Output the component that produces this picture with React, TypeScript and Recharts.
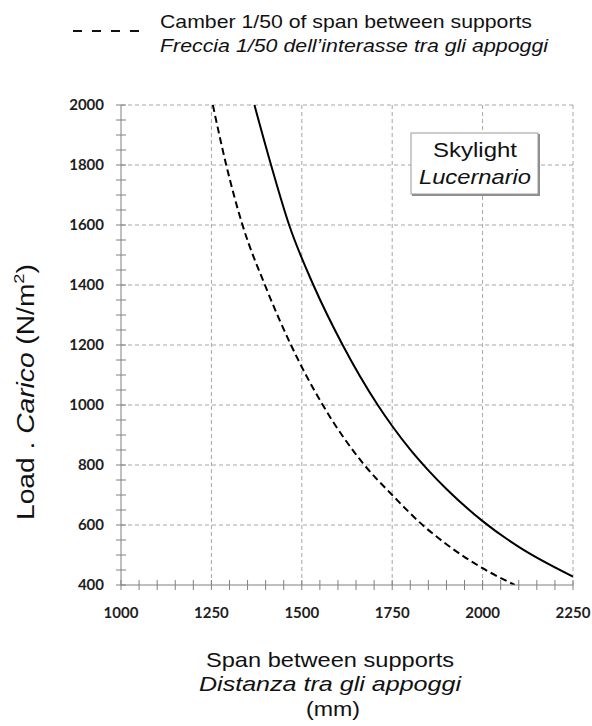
import React from 'react';
import { LineChart, Line, XAxis, YAxis, ReferenceLine } from 'recharts';

// load curve for the skylight panel (N/m2) against span (mm)
const spanSolid = [1369, 1415, 1465, 1532, 1613, 1710, 1750, 1800, 1850, 1900, 2000, 2100, 2250];
const loadSolid = [2000, 1800, 1600, 1400, 1200, 1000, 930, 851, 782, 720, 613, 527, 428];

// camber 1/50 of span
const spanCamber = [1254, 1291, 1336, 1398, 1470, 1558, 1673, 1750, 1834, 1900, 2000, 2089];
const loadCamber = [2000, 1800, 1600, 1400, 1200, 1000, 800, 700, 600, 536, 456, 400];

const xLabels = [1000, 1250, 1500, 1750, 2000, 2250];
const yLabels = [400, 600, 800, 1000, 1200, 1400, 1600, 1800, 2000];
const xTicks = [
  1000, 1050, 1100, 1150, 1200, 1250, 1300, 1350, 1400, 1450, 1500, 1550, 1600,
  1650, 1700, 1750, 1800, 1850, 1900, 1950, 2000, 2050, 2100, 2150, 2200, 2250,
];
const yTicks = [
  400, 450, 500, 550, 600, 650, 700, 750, 800, 850, 900, 950, 1000, 1050, 1100, 1150,
  1200, 1250, 1300, 1350, 1400, 1450, 1500, 1550, 1600, 1650, 1700, 1750, 1800, 1850,
  1900, 1950, 2000,
];

const solidData = spanSolid.map((s, i) => ({ span: s, load: loadSolid[i] }));
const camberData = spanCamber.map((s, i) => ({ span: s, load: loadCamber[i] }));

const AXIS = '#808080';
const GRID = '#a6a6a6';
const tickFont = { fontFamily: 'Lato, sans-serif', fontWeight: 700, fontSize: 15, fill: '#1e1e1e' };
const textFont = "'Liberation Sans', Arial, sans-serif";

function XTick({ x, y, payload }: any) {
  const major = xLabels.includes(payload.value);
  return (
    <g>
      <line x1={x} x2={x} y1={y - 5} y2={y + 5} stroke={AXIS} />
      {major && (
        <text x={x} y={y + 33} textAnchor="middle" {...tickFont}>
          {payload.value}
        </text>
      )}
    </g>
  );
}

function YTick({ x, y, payload }: any) {
  const major = yLabels.includes(payload.value);
  return (
    <g>
      <line x1={x - 5} x2={x + 5} y1={y} y2={y} stroke={AXIS} />
      {major && (
        <text x={x - 17} y={y + 5} textAnchor="end" {...tickFont}>
          {payload.value}
        </text>
      )}
    </g>
  );
}

export default function App() {
  return (
    <div style={{ position: 'absolute', left: 0, top: 0, width: 592, height: 726, background: '#fff' }}>
      <LineChart
        width={592}
        height={726}
        margin={{ top: 105, right: 19, bottom: 111, left: 61 }}
      >
        {xLabels.slice(1).map((v) => (
          <ReferenceLine key={'gx' + v} x={v} stroke={GRID} strokeDasharray="4 3" />
        ))}
        {yLabels.slice(1).map((v) => (
          <ReferenceLine key={'gy' + v} y={v} stroke={GRID} strokeDasharray="4 3" />
        ))}
        <XAxis
          dataKey="span"
          type="number"
          domain={[1000, 2250]}
          ticks={xTicks}
          interval={0}
          height={30}
          tickSize={0}
          tickMargin={0}
          stroke={AXIS}
          tick={<XTick />}
          allowDataOverflow
        />
        <YAxis
          type="number"
          domain={[400, 2000]}
          ticks={yTicks}
          interval={0}
          width={60}
          tickSize={0}
          tickMargin={0}
          stroke={AXIS}
          tick={<YTick />}
          allowDataOverflow
        />
        <Line
          data={camberData}
          dataKey="load"
          type="monotone"
          stroke="#000"
          strokeWidth={2}
          strokeDasharray="7 4"
          dot={false}
          isAnimationActive={false}
        />
        <Line
          data={solidData}
          dataKey="load"
          type="monotone"
          stroke="#000"
          strokeWidth={2}
          dot={false}
          isAnimationActive={false}
        />
      </LineChart>

      <svg
        width={592}
        height={726}
        style={{ position: 'absolute', left: 0, top: 0, pointerEvents: 'none' }}
        fontFamily={textFont}
        fill="#111"
      >
        {/* legend */}
        <line x1={73} x2={141} y1={31} y2={31} stroke="#111" strokeWidth={2} strokeDasharray="9 10" />
        <text x={160} y={28} fontSize={19} textLength={372} lengthAdjust="spacingAndGlyphs">
          Camber 1/50 of span between supports
        </text>
        <text x={160} y={52} fontSize={19} fontStyle="italic" textLength={388} lengthAdjust="spacingAndGlyphs">
          Freccia 1/50 dell’interasse tra gli appoggi
        </text>

        {/* skylight box */}
        <rect x={412} y={134} width={128} height={62} fill="#8c8c8c" />
        <rect x={411} y={133} width={127} height={61} fill="#fff" stroke="#9a9a9a" />
        <text x={475} y={157} fontSize={21} textAnchor="middle" textLength={84} lengthAdjust="spacingAndGlyphs">
          Skylight
        </text>
        <text x={475} y={184} fontSize={21} fontStyle="italic" textAnchor="middle" textLength={112} lengthAdjust="spacingAndGlyphs">
          Lucernario
        </text>

        {/* y axis title */}
        <text
          x={0}
          y={0}
          fontSize={23}
          textAnchor="middle"
          textLength={256}
          lengthAdjust="spacingAndGlyphs"
          transform="translate(34 392) rotate(-90)"
        >
          Load .  <tspan fontStyle="italic">Carico</tspan> (N/m
          <tspan fontSize={15} dy={-10}>2</tspan>
          <tspan dy={10}>)</tspan>
        </text>

        {/* x axis title */}
        <text x={330} y={667} fontSize={21} textAnchor="middle" textLength={248} lengthAdjust="spacingAndGlyphs">
          Span between supports
        </text>
        <text x={330} y={691} fontSize={21} fontStyle="italic" textAnchor="middle" textLength={262} lengthAdjust="spacingAndGlyphs">
          Distanza tra gli appoggi
        </text>
        <text x={333} y={716} fontSize={21} textAnchor="middle" textLength={54} lengthAdjust="spacingAndGlyphs">
          (mm)
        </text>
      </svg>
    </div>
  );
}
